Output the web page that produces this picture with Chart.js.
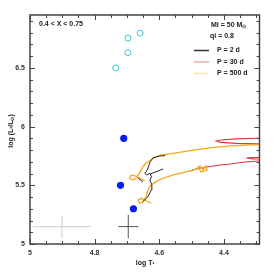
<!DOCTYPE html>
<html>
<head>
<meta charset="utf-8">
<script src="https://cdn.jsdelivr.net/npm/chart.js@4"></script>
<style>
  html, body { margin: 0; padding: 0; background: #fff; }
  #wrap { width: 274px; height: 274px; }
</style>
</head>
<body>
<div id="wrap"><canvas id="hrd"></canvas></div>
<script>
// observed stars
const cyanX = [4.735, 4.697, 4.697, 4.659];
const cyanY = [6.50, 6.63, 6.753, 6.796];
const blueX = [4.71, 4.72, 4.68];
const blueY = [5.90, 5.50, 5.30];

// error crosses (light = typical, dark = other)
const errX = [4.901, 4.696];
const errY = [5.148, 5.148];
const errDX = [0.090, 0.031];
const errDY = [0.097, 0.100];

// tracks (null = gap)
const p2X = [4.651, 4.635, 4.625, 4.623, 4.629, 4.624, 4.629, 4.639, 4.645, 4.637, 4.629, 4.619, 4.598, 4.582,
  null, 4.628, 4.588, null, 4.666, 4.651];
const p2Y = [5.360, 5.403, 5.460, 5.503, 5.545, 5.573, 5.602, 5.588, 5.602, 5.630, 5.696, 5.735, 5.750, 5.752,
  null, 5.596, 5.639, null, 5.562, 5.528];

const p30X = [4.505, 4.474, 4.448, 4.412, 4.381, 4.335, 4.293, 4.20,
  4.20, 4.30, 4.33, 4.31, 4.20,
  4.20, 4.30, 4.36, 4.41, 4.424, 4.41, 4.36, 4.30, 4.20];
const p30Y = [5.622, 5.647, 5.658, 5.673, 5.681, 5.698, 5.707, 5.712,
  5.737, 5.737, 5.733, 5.725, 5.722,
  5.902, 5.900, 5.895, 5.885, 5.877, 5.865, 5.857, 5.853, 5.850];

const p500X = [4.625, 4.646, 4.656, 4.666, 4.661, 4.651, 4.641, 4.635, 4.625, 4.610, 4.589, 4.573, 4.557, 4.536, 4.505, 4.484,
  4.474, 4.465, 4.456, 4.452, 4.471, 4.480, 4.462, 4.450,
  null,
  4.20, 4.293, 4.381, 4.443, 4.505, 4.567, 4.594, 4.620, 4.641, 4.651, 4.661, 4.672, 4.682, 4.692, 4.687, 4.672, 4.657, 4.645];
const p500Y = [5.347, 5.375, 5.389, 5.375, 5.347, 5.358, 5.403, 5.460, 5.503, 5.531, 5.560, 5.573, 5.588, 5.602, 5.622, 5.639,
  5.664, 5.630, 5.664, 5.630, 5.613, 5.656, 5.648, 5.650,
  null,
  5.846, 5.846, 5.835, 5.818, 5.796, 5.768, 5.758, 5.730, 5.687, 5.658, 5.602, 5.560, 5.545, 5.560, 5.588, 5.579, 5.554, 5.537];

const xTicks = [5, 4.8, 4.6, 4.4];
const yTicks = [5, 5.5, 6, 6.5];

const legendLabels = ["P = 2 d", "P = 30 d", "P = 500 d"];
const legendColors = ["#333333", "#f4a6a6", "#f8e9a6"];

function pts(xs, ys) {
  return xs.map((x, i) => (x === null ? { x: null, y: null } : { x: x, y: ys[i] }));
}

function crossPts(i) {
  return [
    { x: errX[i] - errDX[i], y: errY[i] }, { x: errX[i] + errDX[i], y: errY[i] },
    { x: null, y: null },
    { x: errX[i], y: errY[i] - errDY[i] }, { x: errX[i], y: errY[i] + errDY[i] }
  ];
}

const FONT = "Liberation Sans";

// draw text made of pieces, [text, sub?]
function richWidth(ctx, parts, size) {
  let w = 0;
  parts.forEach(p => {
    ctx.font = "bold " + (p[1] ? size * 0.7 : size) + "px " + FONT;
    w += ctx.measureText(p[0]).width;
  });
  return w;
}
function richText(ctx, parts, x, y, size) {
  parts.forEach(p => {
    const s = p[1] ? size * 0.7 : size;
    ctx.font = "bold " + s + "px " + FONT;
    ctx.fillText(p[0], x, y + (p[1] ? size * 0.3 : 0));
    x += ctx.measureText(p[0]).width;
  });
}

const framePlugin = {
  id: "frame",
  afterDraw(chart) {
    const ctx = chart.ctx;
    const a = chart.chartArea;
    const xs = chart.scales.x, ys = chart.scales.y;
    ctx.save();
    ctx.strokeStyle = "#444";
    ctx.lineWidth = 1;
    ctx.beginPath();
    for (let i = 0; i <= 14; i++) {
      const v = 5 - i * 0.05;
      const px = Math.round(xs.getPixelForValue(v)) + 0.5;
      const len = i % 4 === 0 ? 5 : 3;
      ctx.moveTo(px, a.bottom); ctx.lineTo(px, a.bottom - len);
      ctx.moveTo(px, a.top); ctx.lineTo(px, a.top + len);
    }
    for (let i = 0; i <= 19; i++) {
      const v = 5 + i * 0.1;
      const py = Math.round(ys.getPixelForValue(v)) + 0.5;
      const len = i % 5 === 0 ? 5 : 3;
      ctx.moveTo(a.left, py); ctx.lineTo(a.left + len, py);
      ctx.moveTo(a.right, py); ctx.lineTo(a.right - len, py);
    }
    ctx.stroke();
    ctx.lineWidth = 1.5;
    ctx.strokeRect(a.left, a.top, a.right - a.left, a.bottom - a.top);

    ctx.fillStyle = "#222";
    ctx.textBaseline = "middle";
    ctx.textAlign = "left";
    richText(ctx, [["0.4 < X < 0.75", false]], 39, 24.5, 7);
    richText(ctx, [["Mi = 50 M", false], ["\u2299", true]], 211, 25, 7);
    richText(ctx, [["qi = 0.8", false]], 210, 36.5, 7);

    const rowY = [50.5, 62, 73.5];
    legendLabels.forEach((lab, i) => {
      ctx.strokeStyle = legendColors[i];
      ctx.lineWidth = 1.5;
      ctx.beginPath();
      ctx.moveTo(194, rowY[i]); ctx.lineTo(209, rowY[i]);
      ctx.stroke();
      richText(ctx, [[lab, false]], 217, rowY[i], 7);
    });

    // axis titles
    const xt = [["log T", false], ["*", true]];
    richText(ctx, xt, 145 - richWidth(ctx, xt, 7) / 2, 263, 7);
    const yt = [["log (L", false], ["*", true], ["/L", false], ["\u2299", true], [")", false]];
    ctx.translate(11, 131);
    ctx.rotate(-Math.PI / 2);
    richText(ctx, yt, -richWidth(ctx, yt, 7) / 2, 0, 7);
    ctx.restore();
  }
};

new Chart(document.getElementById("hrd"), {
  type: "scatter",
  data: {
    datasets: [
      { data: pts(cyanX, cyanY), pointRadius: 3, pointBorderWidth: 1, pointBorderColor: "#3cc4cc",
        pointBackgroundColor: "rgba(0,0,0,0)", showLine: false, order: 0 },
      { data: pts(blueX, blueY), pointRadius: 3.6, pointBorderWidth: 0, pointBackgroundColor: "#0a1cf0",
        showLine: false, order: 0 },
      { data: pts(p2X, p2Y), showLine: true, spanGaps: false, borderColor: "#2a2a2a", borderWidth: 1,
        pointRadius: 0, order: 1 },
      { data: pts(p500X, p500Y), showLine: true, spanGaps: false, borderColor: "#f2a81c", borderWidth: 1.3,
        pointRadius: 0, order: 2 },
      { data: pts(p30X, p30Y), showLine: true, spanGaps: false, borderColor: "#d8383a", borderWidth: 1.1,
        pointRadius: 0, order: 3 },
      { data: crossPts(0), showLine: true, spanGaps: false, borderColor: "#cfcfcf", borderWidth: 1,
        pointRadius: 0, order: 4 },
      { data: crossPts(1), showLine: true, spanGaps: false, borderColor: "#555", borderWidth: 1,
        pointRadius: 0, order: 4 }
    ]
  },
  options: {
    responsive: true,
    maintainAspectRatio: false,
    animation: false,
    layout: { padding: { top: 15, right: 14.5, left: 0, bottom: 0 } },
    plugins: { legend: { display: false }, tooltip: { enabled: false } },
    scales: {
      x: {
        type: "linear", reverse: true, min: 4.29, max: 5.0,
        grid: { display: false, drawTicks: false }, border: { display: false },
        afterBuildTicks: s => { s.ticks = xTicks.map(v => ({ value: v })); },
        afterFit: s => { s.height = 30; },
        ticks: { padding: 5, color: "#333", font: { family: FONT, size: 7, weight: "bold" },
          callback: v => String(v) }
      },
      y: {
        type: "linear", min: 5, max: 6.95,
        grid: { display: false, drawTicks: false }, border: { display: false },
        afterBuildTicks: s => { s.ticks = yTicks.map(v => ({ value: v })); },
        afterFit: s => { s.width = 30; },
        ticks: { padding: 5, color: "#333", font: { family: FONT, size: 7, weight: "bold" },
          callback: v => String(v) }
      }
    }
  },
  plugins: [framePlugin]
});
</script>
</body>
</html>
